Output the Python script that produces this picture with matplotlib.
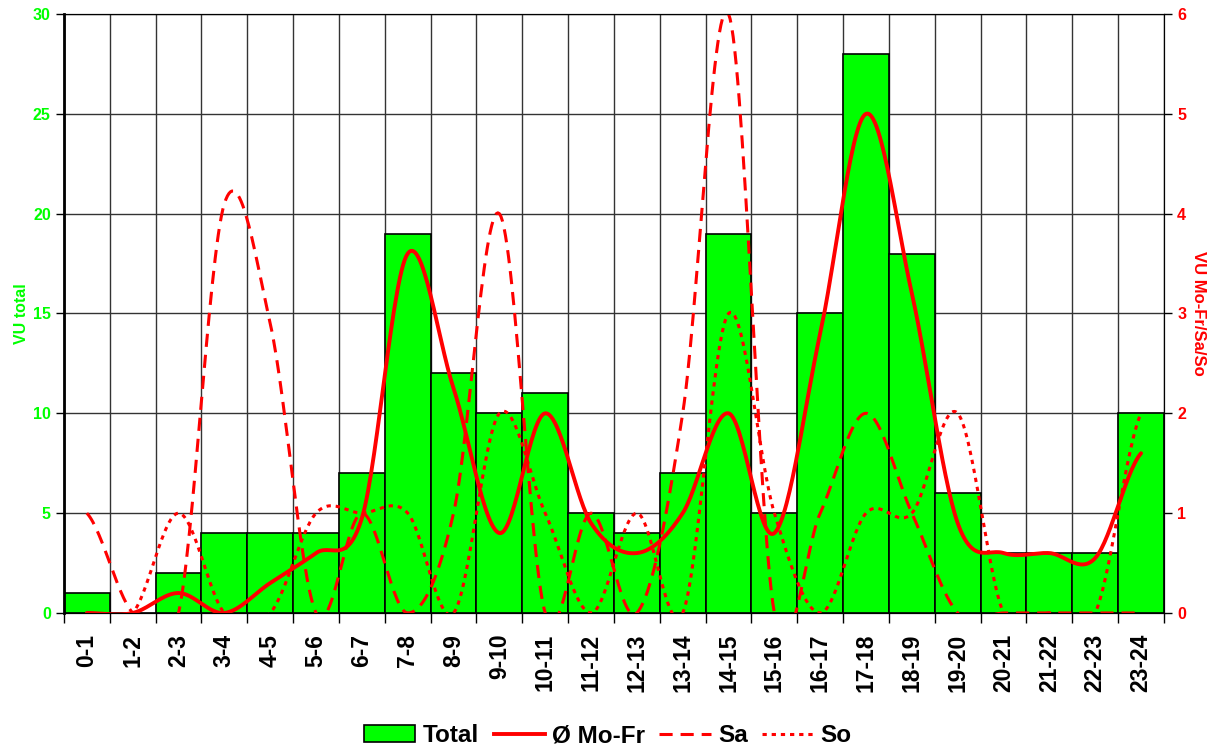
import numpy as np
import matplotlib
matplotlib.use("Agg")
import matplotlib.pyplot as plt
from matplotlib.patches import Patch
from matplotlib.lines import Line2D

plt.rcParams['font.family'] = ['Liberation Sans', 'DejaVu Sans']
plt.rcParams['font.weight'] = 'bold'

# data
hours = ["0-1", "1-2", "2-3", "3-4", "4-5", "5-6", "6-7", "7-8", "8-9", "9-10",
         "10-11", "11-12", "12-13", "13-14", "14-15", "15-16", "16-17", "17-18",
         "18-19", "19-20", "20-21", "21-22", "22-23", "23-24"]
total = [1, 0, 2, 4, 4, 4, 7, 19, 12, 10, 11, 5, 4, 7, 19, 5, 15, 28, 18, 6, 3, 3, 3, 10]
mofr = [0, 0, 0.2, 0, 0.3, 0.6, 0.95, 3.6, 2.25, 0.8, 2.0, 0.9, 0.6, 1.0, 2.0, 0.8,
        2.8, 5.0, 3.2, 0.9, 0.6, 0.6, 0.55, 1.6]
sa = [1, 0, 0, 4.1, 2.9, 0, 1, 0, 1, 4, 0, 1, 0, 2, 6, 0, 1, 2, 1, 0, 0, 0, 0, 0]
so = [0, 0, 1, 0, 0, 1, 1, 1, 0, 2, 1, 0, 1, 0, 3, 1, 0, 1, 1, 2, 0, 0, 0, 2]

GREEN = '#00ff00'
RED = '#ff0000'


def smooth(y, n=30):
    """Catmull-Rom curve through the points (like Excel's smoothed line)."""
    y = np.asarray(y, float)
    x = np.arange(len(y), dtype=float)
    p = np.concatenate([[y[0]], y, [y[-1]]])
    xs, ys = [], []
    for i in range(len(y) - 1):
        p0, p1, p2, p3 = p[i], p[i + 1], p[i + 2], p[i + 3]
        t = np.linspace(0, 1, n, endpoint=False)
        yy = 0.5 * (2 * p1 + (-p0 + p2) * t + (2 * p0 - 5 * p1 + 4 * p2 - p3) * t ** 2
                    + (-p0 + 3 * p1 - 3 * p2 + p3) * t ** 3)
        xs.append(x[i] + t)
        ys.append(yy)
    xs.append([x[-1]])
    ys.append([y[-1]])
    return np.concatenate(xs), np.concatenate(ys)


fig = plt.figure(figsize=(12.16, 7.51), dpi=100)
ax = fig.add_axes([0.0526, 0.1838, 0.9046, 0.7976])
x = np.arange(len(hours))

ax.bar(x, total, width=1.0, color=GREEN, edgecolor='black', linewidth=1.2, zorder=2)
ax.set_xlim(-0.5, len(hours) - 0.5)
ax.set_ylim(0, 30)
ax.set_yticks(range(0, 31, 5))
ax.set_axisbelow(True)
ax.grid(axis='y', color='#333333', linewidth=1)
ax.set_xticks(x)
ax.set_xticklabels(hours, rotation=90, fontsize=16.5, fontweight='bold')
ax.tick_params(axis='x', length=0, pad=15)
ax.set_xticks(np.arange(-0.5, len(hours)), minor=True)
ax.tick_params(axis='x', which='minor', length=7, width=1)
ax.grid(axis='x', which='minor', color='#333333', linewidth=1)
ax.tick_params(axis='y', colors='black', labelcolor=GREEN, labelsize=11.5, length=6, width=1)
for lab in ax.get_yticklabels():
    lab.set_fontweight('bold')
ax.set_ylabel('VU total', color=GREEN, fontsize=11.5, fontweight='bold', labelpad=3)
ax.spines['left'].set_linewidth(2)

ax2 = ax.twinx()
ax2.set_ylim(0, 6)
ax2.set_yticks(range(0, 7))
ax2.tick_params(axis='y', colors='black', labelcolor=RED, labelsize=11.5, length=6, width=1)
for lab in ax2.get_yticklabels():
    lab.set_fontweight('bold')
ax2.set_ylabel('VU Mo-Fr/Sa/So', color=RED, fontsize=12, fontweight='bold',
               rotation=-90, labelpad=14)

xs, ys = smooth(mofr)
ax2.plot(xs, ys, color=RED, linewidth=2.8, solid_capstyle='round')
xs, ys = smooth(sa)
ax2.plot(xs, ys, color=RED, linewidth=2.2, linestyle=(0, (4.3, 2.6)))
xs, ys = smooth(so)
ax2.plot(xs, ys, color=RED, linewidth=2.2, linestyle=(0, (1.4, 1.6)))

handles = [
    Patch(facecolor=GREEN, edgecolor='black', linewidth=1.2, label='Total'),
    Line2D([], [], color=RED, linewidth=2.8, label='Ø Mo-Fr'),
    Line2D([], [], color=RED, linewidth=2.2, linestyle=(0, (4.3, 2.6)), label='Sa'),
    Line2D([], [], color=RED, linewidth=2.2, linestyle=(0, (1.4, 1.6)), label='So'),
]
fig.legend(handles=handles, loc='center', bbox_to_anchor=(0.5, 0.02), ncol=4,
           frameon=False, prop={'size': 17.5, 'weight': 'bold'},
           handlelength=2.1, handletextpad=0.3, columnspacing=0.6)

fig.savefig('out.png', dpi=100)
